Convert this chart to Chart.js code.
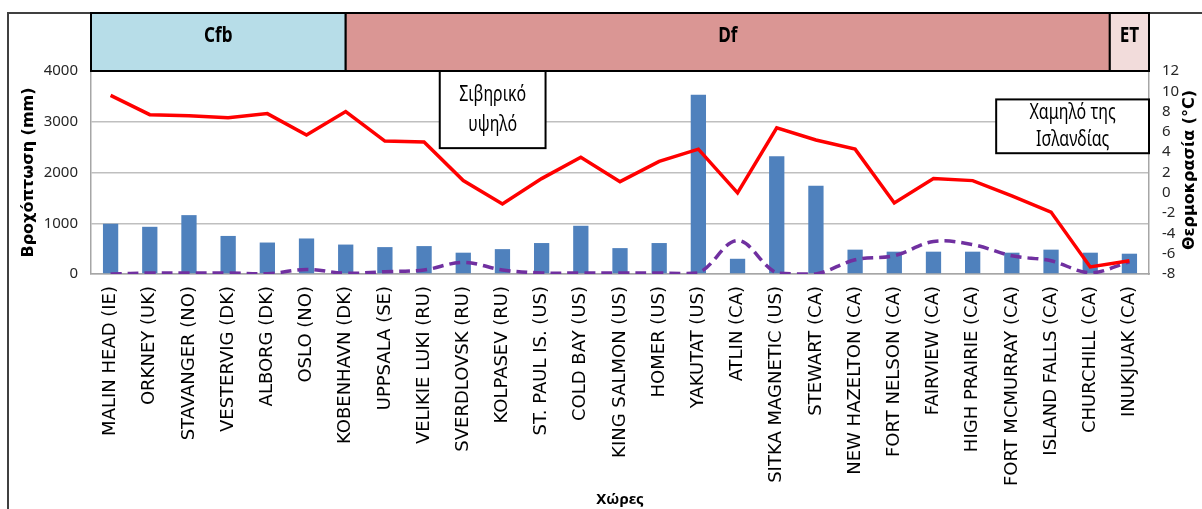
<!DOCTYPE html>
<html>
<head>
<meta charset="utf-8">
<script src="https://cdn.jsdelivr.net/npm/chart.js@4"></script>
<style>
  html, body { margin: 0; padding: 0; background: #fff; }
  #wrap { width: 1202px; height: 509px; position: relative; }
</style>
</head>
<body>
<div id="wrap"><canvas id="climateChart"></canvas></div>
<script>
const categories = [
    'MALIN HEAD (IE)', 'ORKNEY (UK)', 'STAVANGER (NO)', 'VESTERVIG (DK)', 'ALBORG (DK)',
    'OSLO (NO)', 'KOBENHAVN (DK)', 'UPPSALA (SE)', 'VELIKIE LUKI (RU)', 'SVERDLOVSK (RU)',
    'KOLPASEV (RU)', 'ST. PAUL IS. (US)', 'COLD BAY (US)', 'KING SALMON (US)', 'HOMER (US)',
    'YAKUTAT (US)', 'ATLIN (CA)', 'SITKA MAGNETIC (US)', 'STEWART (CA)', 'NEW HAZELTON (CA)',
    'FORT NELSON (CA)', 'FAIRVIEW (CA)', 'HIGH PRAIRIE (CA)', 'FORT MCMURRAY (CA)',
    'ISLAND FALLS (CA)', 'CHURCHILL (CA)', 'INUKJUAK (CA)'
];

// precipitation, mm (bars, left axis)
const precipitation = [
    990, 930, 1160, 750, 620, 700, 580, 530, 550, 420,
    490, 610, 950, 510, 610, 3530, 300, 2320, 1740, 480,
    440, 440, 440, 420, 480, 420, 400
];

// temperature, °C (red line, right axis)
const temperature = [
    9.6, 7.7, 7.6, 7.4, 7.8, 5.7, 8.0, 5.1, 5.0, 1.2,
    -1.1, 1.4, 3.5, 1.1, 3.1, 4.3, 0.0, 6.4, 5.2, 4.3,
    -1.0, 1.4, 1.2, -0.3, -1.9, -7.3, -6.7
];

// purple dashed series, read against the left axis
const dashedSeries = [
    0, 20, 20, 20, 5, 90, 15, 45, 80, 230,
    80, 20, 20, 20, 20, 20, 660, 20, 0, 280,
    360, 640, 580, 360, 260, 25, 240
];

const precipTicks = [0, 1000, 2000, 3000, 4000];
const tempTicks = [-8, -6, -4, -2, 0, 2, 4, 6, 8, 10, 12];

// climate zones along the top: [label, from index, to index, colour]
const zones = [
    ['Cfb', -0.5, 6, '#B7DDE8'],
    ['Df', 6, 25.5, '#DA9694'],
    ['ET', 25.5, 26.5, '#F2DCDB']
];

// text boxes: [lines, from index, to index, top mm, bottom mm]
const notes = [
    [['Σιβηρικό', 'υψηλό'], 8.4, 11.1, 4000, 2480],
    [['Χαμηλό της', 'Ισλανδίας'], 22.6, 26.5, 3440, 2380]
];

const sans = '"Noto Sans", "Open Sans", sans-serif';

// squeezed text, the source chart uses a narrow face
function narrowText(ctx, text, x, y, squeeze) {
    ctx.save();
    ctx.translate(x, y);
    ctx.scale(squeeze, 1);
    ctx.fillText(text, 0, 0);
    ctx.restore();
}

const overlay = {
    id: 'overlay',
    afterDraw(chart) {
        const ctx = chart.ctx;
        const x = chart.scales.x;
        const y = chart.scales.y;
        const area = chart.chartArea;
        const clampX = v => Math.max(area.left, Math.min(area.right, x.getPixelForValue(v)));

        ctx.save();

        // outer frame
        ctx.strokeStyle = '#404040';
        ctx.lineWidth = 2;
        ctx.strokeRect(8, 13, 1400, 700);

        // zone bands
        zones.forEach(([label, from, to, colour]) => {
            const x0 = clampX(from), x1 = clampX(to);
            const y0 = 13, y1 = area.top;
            ctx.fillStyle = colour;
            ctx.fillRect(x0, y0, x1 - x0, y1 - y0);
            ctx.strokeStyle = '#000';
            ctx.lineWidth = 2;
            ctx.strokeRect(x0, y0, x1 - x0, y1 - y0);
            ctx.fillStyle = '#000';
            ctx.font = 'bold 22px ' + sans;
            ctx.textAlign = 'center';
            ctx.textBaseline = 'middle';
            narrowText(ctx, label, (x0 + x1) / 2, y0 + 23, 0.78);
        });

        // text boxes
        notes.forEach(([lines, from, to, top, bottom]) => {
            const x0 = clampX(from), x1 = clampX(to);
            const y0 = y.getPixelForValue(top), y1 = y.getPixelForValue(bottom);
            ctx.fillStyle = '#fff';
            ctx.fillRect(x0, y0, x1 - x0, y1 - y0);
            ctx.strokeStyle = '#000';
            ctx.lineWidth = 2;
            ctx.strokeRect(x0, y0, x1 - x0, y1 - y0);
            ctx.fillStyle = '#000';
            ctx.font = '21px ' + sans;
            ctx.textAlign = 'center';
            ctx.textBaseline = 'middle';
            const mid = (y0 + y1) / 2;
            const gap = (y1 - y0) > 65 ? 30 : 27;
            lines.forEach((t, i) => {
                narrowText(ctx, t, (x0 + x1) / 2, mid + (i - (lines.length - 1) / 2) * gap, 0.76);
            });
        });

        // right axis title, reading upwards
        ctx.translate(1190, 170);
        ctx.rotate(-Math.PI / 2);
        ctx.fillStyle = '#000';
        ctx.font = 'bold 16px "DejaVu Sans", sans-serif';
        ctx.textAlign = 'center';
        ctx.textBaseline = 'middle';
        ctx.fillText('Θερμοκρασία (°C)', 0, 0);

        ctx.restore();
    }
};

const ctx = document.getElementById('climateChart').getContext('2d');

const climateChart = new Chart(ctx, {
    type: 'bar',
    data: {
        labels: categories,
        datasets: [{
            type: 'line',
            label: 'Θερμοκρασία',
            data: temperature,
            yAxisID: 'y1',
            borderColor: '#FF0000',
            borderWidth: 3.5,
            tension: 0,
            pointRadius: 0,
            order: 1
        }, {
            type: 'line',
            label: 'Σειρά 3',
            data: dashedSeries,
            yAxisID: 'y',
            borderColor: '#7030A0',
            borderWidth: 3.5,
            borderDash: [11, 6],
            tension: 0.35,
            pointRadius: 0,
            order: 2
        }, {
            type: 'bar',
            label: 'Βροχόπτωση',
            data: precipitation,
            yAxisID: 'y',
            backgroundColor: '#4F81BD',
            barPercentage: 0.39,
            categoryPercentage: 1,
            order: 3
        }]
    },
    options: {
        responsive: true,
        maintainAspectRatio: false,
        animation: false,
        layout: {
            padding: { top: 71, left: 0, right: 0, bottom: 0 }
        },
        scales: {
            x: {
                grid: { display: false, drawTicks: false },
                border: { color: '#A6A6A6', width: 1.5 },
                ticks: {
                    autoSkip: false,
                    minRotation: 90,
                    maxRotation: 90,
                    padding: 12,
                    color: '#000',
                    font: { family: '"DejaVu Sans", sans-serif', size: 18 }
                },
                title: {
                    display: true,
                    text: 'Χώρες',
                    color: '#000',
                    font: { family: sans, size: 15, weight: 'bold' },
                    padding: { top: 0, bottom: 0 }
                },
                afterFit(scale) { scale.height = 235; }
            },
            y: {
                position: 'left',
                min: 0,
                max: 4000,
                afterBuildTicks(scale) { scale.ticks = precipTicks.map(v => ({ value: v })); },
                grid: { color: '#BFBFBF', lineWidth: 1.5, drawTicks: false },
                border: { color: '#A6A6A6', width: 1.5 },
                ticks: {
                    autoSkip: false,
                    padding: 13,
                    color: '#262626',
                    font: { family: sans, size: 15 },
                    callback: v => String(v)
                },
                title: {
                    display: true,
                    text: 'Βροχόπτωση (mm)',
                    color: '#000',
                    font: { family: '"DejaVu Sans", sans-serif', size: 16, weight: 'bold' },
                    padding: { top: 19, bottom: 0 }
                },
                afterFit(scale) { scale.width = 91; }
            },
            y1: {
                position: 'right',
                min: -8,
                max: 12,
                afterBuildTicks(scale) { scale.ticks = tempTicks.map(v => ({ value: v })); },
                grid: { display: false, drawTicks: false },
                border: { color: '#A6A6A6', width: 1.5 },
                ticks: {
                    autoSkip: false,
                    padding: 13,
                    color: '#262626',
                    font: { family: sans, size: 15 },
                    callback: v => String(v)
                },
                afterFit(scale) { scale.width = 53; }
            }
        },
        plugins: {
            legend: { display: false },
            tooltip: { enabled: false }
        }
    },
    plugins: [overlay]
});
</script>
</body>
</html>
